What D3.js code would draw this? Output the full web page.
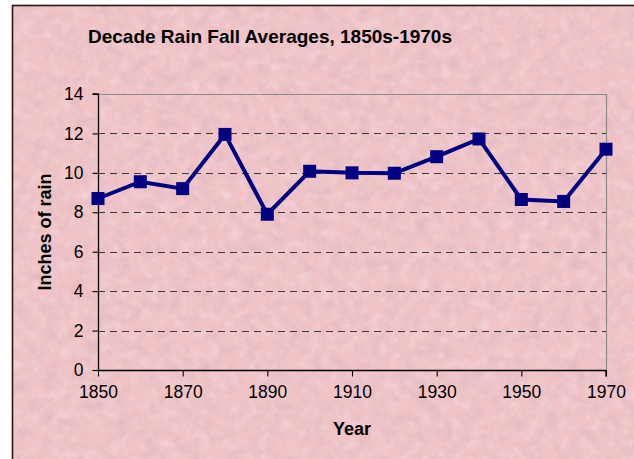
<!DOCTYPE html>
<html>
<head>
<meta charset="utf-8">
<script src="https://cdn.jsdelivr.net/npm/d3@7"></script>
<style>
  html, body { margin: 0; padding: 0; background: #ffffff; }
  svg { display: block; }
  text { font-family: "Liberation Sans", Arial, sans-serif; fill: #000; }
</style>
</head>
<body>
<div id="chart"></div>
<script>
const title = "Decade Rain Fall Averages, 1850s-1970s";
const xLabel = "Year";
const yLabel = "Inches of rain";
const years = [1850, 1860, 1870, 1880, 1890, 1900, 1910, 1920, 1930, 1940, 1950, 1960, 1970];
const rainfall = [8.7, 9.55, 9.2, 11.95, 7.9, 10.08, 10.0, 9.98, 10.82, 11.72, 8.65, 8.55, 11.2];
const xTicks = [1850, 1870, 1890, 1910, 1930, 1950, 1970];
const yTicks = [0, 2, 4, 6, 8, 10, 12, 14];

const W = 634, H = 459;
const svg = d3.select("#chart").append("svg").attr("width", W).attr("height", H);

// texture filter
const defs = svg.append("defs");
const f = defs.append("filter").attr("id", "tex").attr("x", 0).attr("y", 0).attr("width", "100%").attr("height", "100%");
f.append("feTurbulence").attr("type", "fractalNoise").attr("baseFrequency", "0.07").attr("numOctaves", 4).attr("seed", 7).attr("result", "n");
f.append("feColorMatrix").attr("in", "n").attr("type", "matrix")
  .attr("values", "0 0 0 0 0.62  0 0 0 0 0.40  0 0 0 0 0.44  2.0 0 0 0 -0.85");

const f2 = defs.append("filter").attr("id", "tex2").attr("x", 0).attr("y", 0).attr("width", "100%").attr("height", "100%");
f2.append("feTurbulence").attr("type", "fractalNoise").attr("baseFrequency", "0.1").attr("numOctaves", 3).attr("seed", 21).attr("result", "n");
f2.append("feColorMatrix").attr("in", "n").attr("type", "matrix")
  .attr("values", "0 0 0 0 1  0 0 0 0 0.90  0 0 0 0 0.91  2.0 0 0 0 -0.95");

// chart background
svg.append("rect").attr("x", 12).attr("y", 5).attr("width", W).attr("height", H)
  .attr("fill", "#f0c4c7");
svg.append("rect").attr("x", 12).attr("y", 5).attr("width", W).attr("height", H)
  .attr("filter", "url(#tex)").attr("opacity", 0.4);
svg.append("rect").attr("x", 12).attr("y", 5).attr("width", W).attr("height", H)
  .attr("filter", "url(#tex2)").attr("opacity", 0.35);
svg.append("rect").attr("x", 12.5).attr("y", 5.5).attr("width", W).attr("height", H)
  .attr("fill", "none").attr("stroke", "#2a1515").attr("stroke-width", 1.6);

const pL = 98, pR = 606, pT = 94, pB = 370;
const x = d3.scaleLinear().domain([1850, 1970]).range([pL, pR]);
const y = d3.scaleLinear().domain([0, 14]).range([pB, pT]);

// gridlines
svg.append("g").selectAll("line").data(yTicks.filter(d => d > 0 && d < 14)).join("line")
  .attr("x1", pL).attr("x2", pR)
  .attr("y1", d => Math.round(y(d)) + 0.5).attr("y2", d => Math.round(y(d)) + 0.5)
  .attr("stroke", "#3a3a3a").attr("stroke-width", 1).attr("stroke-dasharray", "7,5");

// plot border top/right
svg.append("line").attr("x1", pL).attr("x2", pR + 0.5).attr("y1", pT + 0.5).attr("y2", pT + 0.5)
  .attr("stroke", "#8a8a8a").attr("stroke-width", 1.2);
svg.append("line").attr("x1", pR + 0.5).attr("x2", pR + 0.5).attr("y1", pT).attr("y2", pB)
  .attr("stroke", "#8a8a8a").attr("stroke-width", 1.2);

// axes
const yAxis = d3.axisLeft(y).tickValues(yTicks).tickSize(6).tickPadding(9).tickFormat(d3.format("d"));
const gy = svg.append("g").attr("transform", `translate(${pL + 0.5},0)`).call(yAxis);
const xAxis = d3.axisBottom(x).tickValues(xTicks).tickSize(6).tickPadding(9).tickFormat(d3.format("d"));
const gx = svg.append("g").attr("transform", `translate(0,${pB + 0.5})`).call(xAxis);
[gy, gx].forEach(g => {
  g.attr("font-size", 17.5);
  g.select(".domain").attr("stroke", "#000").attr("stroke-width", 1.3);
  g.selectAll(".tick line").attr("stroke", "#000").attr("stroke-width", 1.1);
  g.selectAll(".tick text").attr("font-size", 17.5).attr("fill", "#000")
    .style("font-family", '"Liberation Sans", Arial, sans-serif');
});
gy.select(".domain").attr("d", `M-6,${pT}H0V${pB}`);
gx.select(".domain").attr("d", `M${pL},0H${pR}V6`);

// line + markers
const line = d3.line().x((d, i) => x(years[i])).y(d => y(d));
svg.append("path").datum(rainfall).attr("d", line)
  .attr("fill", "none").attr("stroke", "#000080").attr("stroke-width", 4).attr("stroke-linejoin", "miter");
const ms = 13;
svg.append("g").selectAll("rect").data(rainfall).join("rect")
  .attr("x", (d, i) => x(years[i]) - ms / 2).attr("y", d => y(d) - ms / 2)
  .attr("width", ms).attr("height", ms).attr("fill", "#000080");

// titles
svg.append("text").attr("x", 270).attr("y", 43).attr("text-anchor", "middle")
  .attr("font-size", 19).attr("font-weight", "bold").text(title);
svg.append("text").attr("x", (pL + pR) / 2).attr("y", 435).attr("text-anchor", "middle")
  .attr("font-size", 18).attr("font-weight", "bold").text(xLabel);
svg.append("text").attr("transform", `translate(51,${(pT + pB) / 2}) rotate(-90)`)
  .attr("text-anchor", "middle").attr("font-size", 18).attr("font-weight", "bold").text(yLabel);
</script>
</body>
</html>
